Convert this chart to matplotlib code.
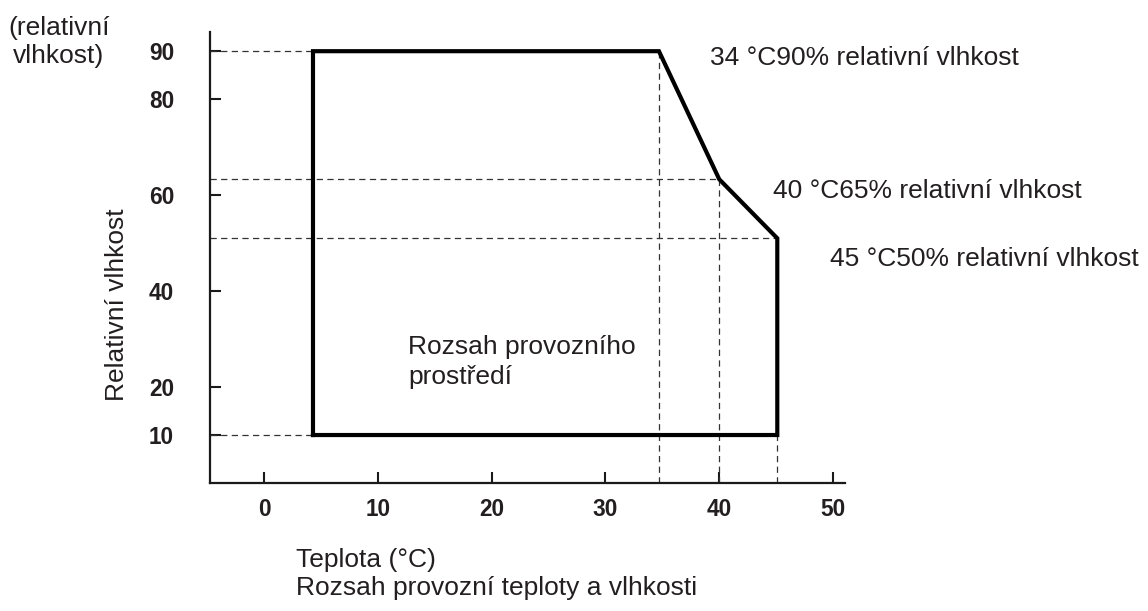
import matplotlib
matplotlib.use("Agg")
import matplotlib.pyplot as plt

plt.rcParams['font.family'] = ['Liberation Sans', 'DejaVu Sans']

# Data
boundary_temp = [4.3, 4.3, 34.7, 40.0, 45.1, 45.1, 4.3]
boundary_rh = [10, 90, 90, 63.3, 51, 10, 10]
x_ticks = [0, 10, 20, 30, 40, 50]
y_ticks = [10, 20, 40, 60, 80, 90]
corner_labels = ["34 °C90% relativní vlhkost",
                 "40 °C65% relativní vlhkost",
                 "45 °C50% relativní vlhkost"]

TXT = '#231f20'
fig = plt.figure(figsize=(11.48, 6.11), dpi=100)
ax = fig.add_axes([210/1148, (611-483)/611, (845-210)/1148, (483-32)/611])
ax.set_xlim(-4.75, 51.05)
ax.set_ylim(0, 94)

dash = dict(color='#333333', lw=0.9, ls=(0, (5, 3.5)))
# horizontal dashed guides
ax.plot([-4.75, boundary_temp[1]], [boundary_rh[1], boundary_rh[1]], **dash)
ax.plot([-4.75, boundary_temp[0]], [boundary_rh[0], boundary_rh[0]], **dash)
ax.plot([-4.75, boundary_temp[3]], [boundary_rh[3], boundary_rh[3]], **dash)
ax.plot([-4.75, boundary_temp[4]], [boundary_rh[4], boundary_rh[4]], **dash)
# vertical dashed guides
ax.plot([boundary_temp[2], boundary_temp[2]], [0, boundary_rh[2]], **dash)
ax.plot([boundary_temp[3], boundary_temp[3]], [0, boundary_rh[3]], **dash)
ax.plot([boundary_temp[5], boundary_temp[5]], [0, boundary_rh[5]], **dash)

ax.plot(boundary_temp, boundary_rh, color='black', lw=3.0,
        solid_joinstyle='miter', solid_capstyle='projecting')

for s in ['top', 'right']:
    ax.spines[s].set_visible(False)
for s in ['left', 'bottom']:
    ax.spines[s].set_linewidth(1.6)
    ax.spines[s].set_color('#1a1a1a')

ax.set_xticks(x_ticks)
ax.set_yticks(y_ticks)
ax.tick_params(axis='both', direction='in', length=8, width=1.5, color='#1a1a1a',
               labelsize=16.3, labelcolor=TXT)
ax.tick_params(axis='y', pad=26)
ax.tick_params(axis='x', pad=11)
for lbl in ax.get_xticklabels() + ax.get_yticklabels():
    lbl.set_fontweight('bold')

fs = 19
fig.text(59/1148, 1-42/611, "(relativní\nvlhkost)", ha='center', va='center',
         fontsize=fs, color=TXT, linespacing=1.2)
fig.text(117/1148, 1-305/611, "Relativní vlhkost", rotation=90, ha='center',
         va='center', fontsize=fs, color=TXT)
fig.text(710/1148, 1-58/611, corner_labels[0], ha='left', va='center', fontsize=fs, color=TXT)
fig.text(773/1148, 1-191/611, corner_labels[1], ha='left', va='center', fontsize=fs, color=TXT)
fig.text(830/1148, 1-259/611, corner_labels[2], ha='left', va='center', fontsize=fs, color=TXT)
fig.text(408/1148, 1-362/611, "Rozsah provozního\nprostředí", ha='left', va='center',
         fontsize=fs, color=TXT, linespacing=1.3)
fig.text(296/1148, 1-574/611, "Teplota (°C)\nRozsah provozní teploty a vlhkosti",
         ha='left', va='center', fontsize=fs, color=TXT, linespacing=1.25)

fig.savefig('out.png', dpi=100)
